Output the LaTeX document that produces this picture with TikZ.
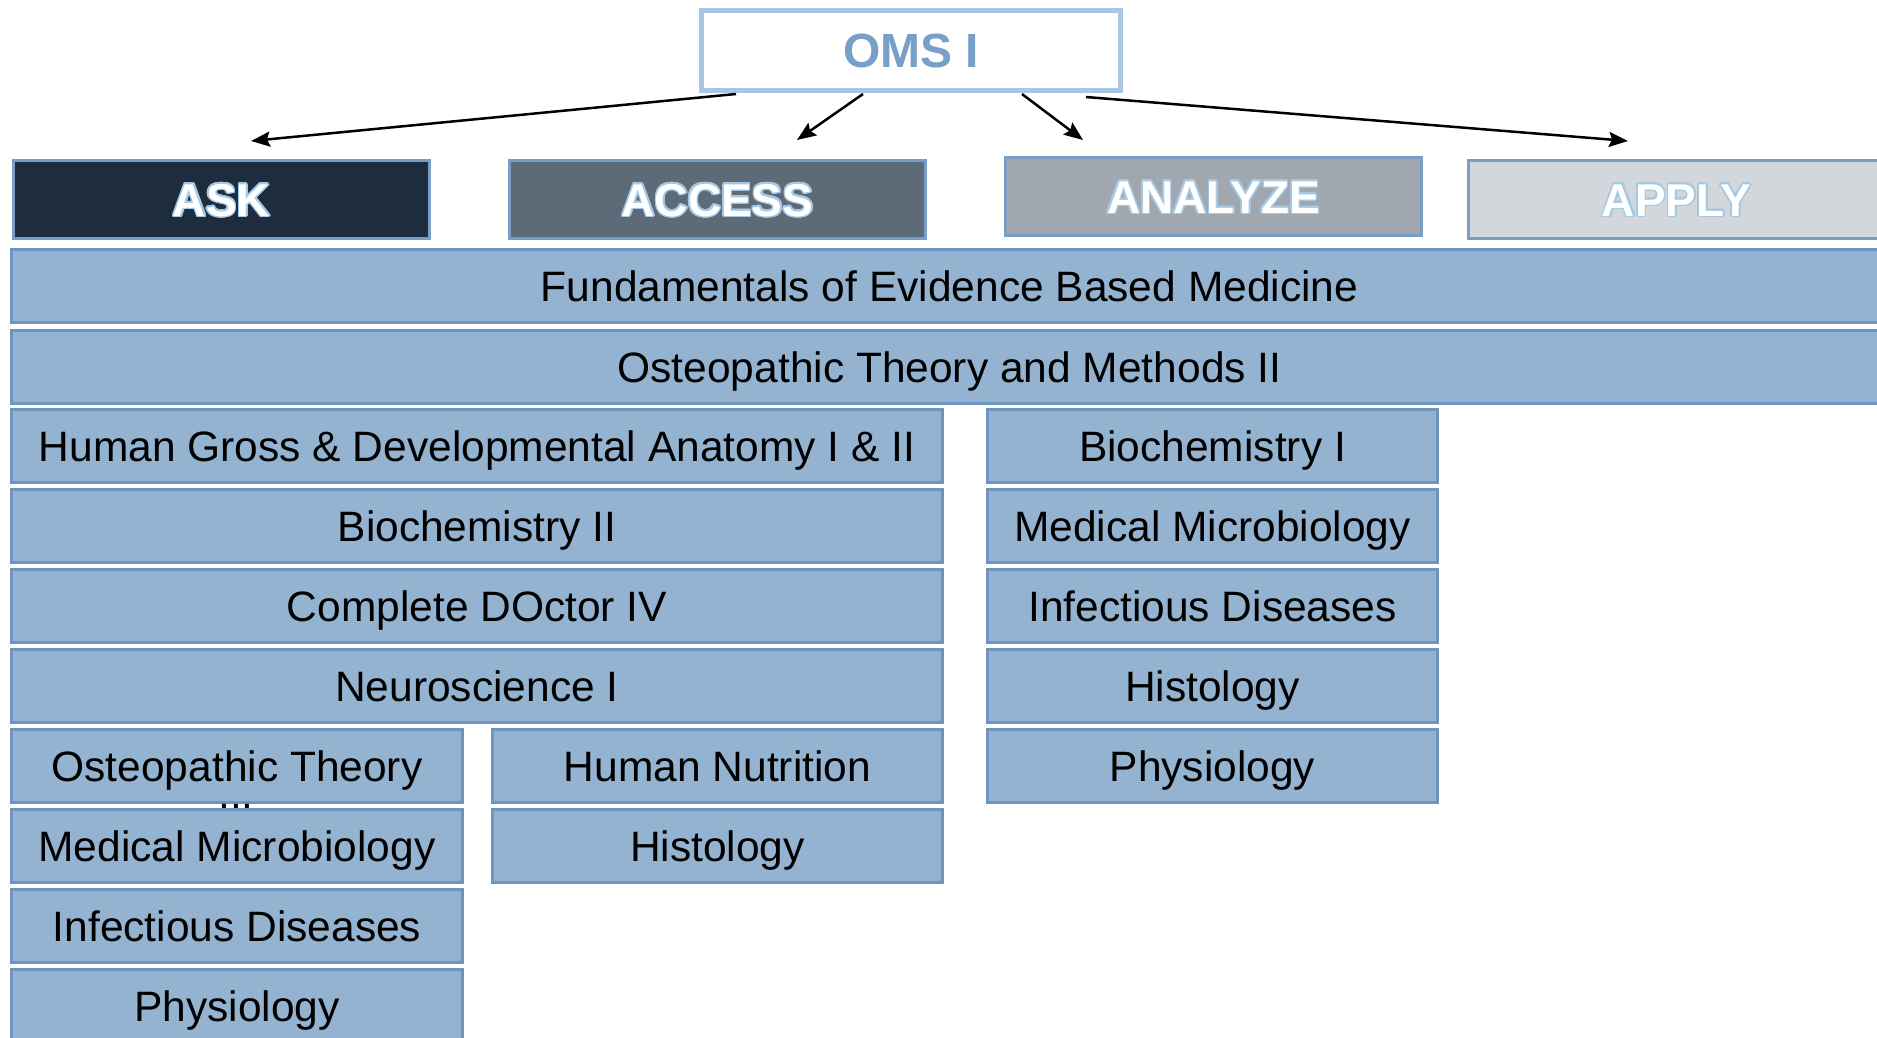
\documentclass[tikz,border=0pt]{standalone}
\usepackage{fontspec}
\setmainfont{Liberation Sans}
\usepackage{contour}
\contourlength{1.6pt}
\usetikzlibrary{arrows.meta,calc}
\definecolor{barfill}{RGB}{147,179,209}
\definecolor{barline}{RGB}{108,150,192}
\definecolor{hdrline}{RGB}{120,158,196}
\definecolor{askfill}{RGB}{30,45,61}
\definecolor{accfill}{RGB}{93,107,120}
\definecolor{anafill}{RGB}{160,167,174}
\definecolor{appfill}{RGB}{211,214,218}
\definecolor{omsline}{RGB}{170,198,225}
\definecolor{omstext}{RGB}{118,160,200}
\definecolor{glow}{RGB}{165,200,228}
\begin{document}
\begin{tikzpicture}[x=1pt,y=-1pt,
  bar/.style={draw=barline, line width=3pt, fill=barfill, inner sep=0pt,
    text height=30pt, text depth=0pt, anchor=north west, minimum height=73pt,
    font=\fontsize{42.5}{50}\selectfont},
  hdr/.style={draw=hdrline, line width=3pt, inner sep=0pt, anchor=north west,
    minimum height=78pt, minimum width=416pt, text=white,
    text height=33pt, text depth=0pt, font=\bfseries\fontsize{46}{50}\selectfont},
  arr/.style={line width=2.5pt, -{Stealth[length=19pt,width=15pt,inset=3pt]}}]
\useasboundingbox (0,0) rectangle (1877,1037);
\fill[white] (0,0) rectangle (1877,1037);

% top box
\node[draw=omsline, line width=5pt, fill=white, minimum width=419pt, minimum height=80pt,
  anchor=north west, inner sep=0pt, text=omstext, text height=34pt, text depth=0pt,
  font=\bfseries\fontsize{48}{50}\selectfont] (oms) at (699,8) {OMS I};

% headers
\node[hdr, fill=askfill] (ask) at (12,159) {\contour{glow}{ASK}};
\node[hdr, fill=accfill] (access) at (508,159) {\contour{glow}{ACCESS}};
\node[hdr, fill=anafill] (analyze) at (1004,156) {\contour{glow}{ANALYZE}};
\node[hdr, fill=appfill, minimum width=430pt] (apply) at (1467,159) {\hspace*{-14pt}\contour{glow}{APPLY}};

% arrows
\coordinate (e1) at (251,141);
\coordinate (e2) at (797,140);
\coordinate (e3) at (1083,140);
\coordinate (e4) at (1628,141);
\draw[arr] ([xshift=-175pt,yshift=-1pt]oms.south) -- (e1);
\draw[arr] ([xshift=-48pt,yshift=-1pt]oms.south) -- (e2);
\draw[arr] ([xshift=111pt,yshift=-1pt]oms.south) -- (e3);
\draw[arr] ([xshift=175pt,yshift=-4pt]oms.south) -- (e4);

% full-width bars
\node[bar, minimum width=1900pt] (febm) at (10,248) {\hspace*{-24pt}Fundamentals of Evidence Based Medicine};
\node[bar, minimum width=1900pt] (otm) at (10,329) {\hspace*{-24pt}Osteopathic Theory and Methods II};

% left wide column
\node[bar, minimum width=931pt] (hgda) at (10,408) {Human Gross \& Developmental Anatomy I \& II};
\node[bar, minimum width=931pt] (bio2) at (10,488) {Biochemistry II};
\node[bar, minimum width=931pt] (cd4) at (10,568) {Complete DOctor IV};
\node[bar, minimum width=931pt] (neuro) at (10,648) {Neuroscience I};

% right column
\node[bar, minimum width=450pt] (bio1) at (986,408) {Biochemistry I};
\node[bar, minimum width=450pt] (mm2) at (986,488) {Medical Microbiology};
\node[bar, minimum width=450pt] (id2) at (986,568) {Infectious Diseases};
\node[bar, minimum width=450pt] (hist2) at (986,648) {Histology};
\node[bar, minimum width=450pt] (phys2) at (986,728) {Physiology};

% lower left split
\node[bar, minimum width=451pt] (ot3) at (10,728) {Osteopathic Theory};
\node[bar, minimum width=450pt] (nutr) at (491,728) {Human Nutrition};
\node[anchor=north, inner sep=0pt, text height=30pt, text depth=0pt,
  font=\fontsize{42.5}{50}\selectfont] (iii) at (236,803) {III};
\node[bar, minimum width=451pt] (mm1) at (10,808) {Medical Microbiology};
\node[bar, minimum width=450pt] (hist1) at (491,808) {Histology};
\node[bar, minimum width=451pt] (id1) at (10,888) {Infectious Diseases};
\node[bar, minimum width=451pt] (phys1) at (10,968) {Physiology};
\end{tikzpicture}
\end{document}
